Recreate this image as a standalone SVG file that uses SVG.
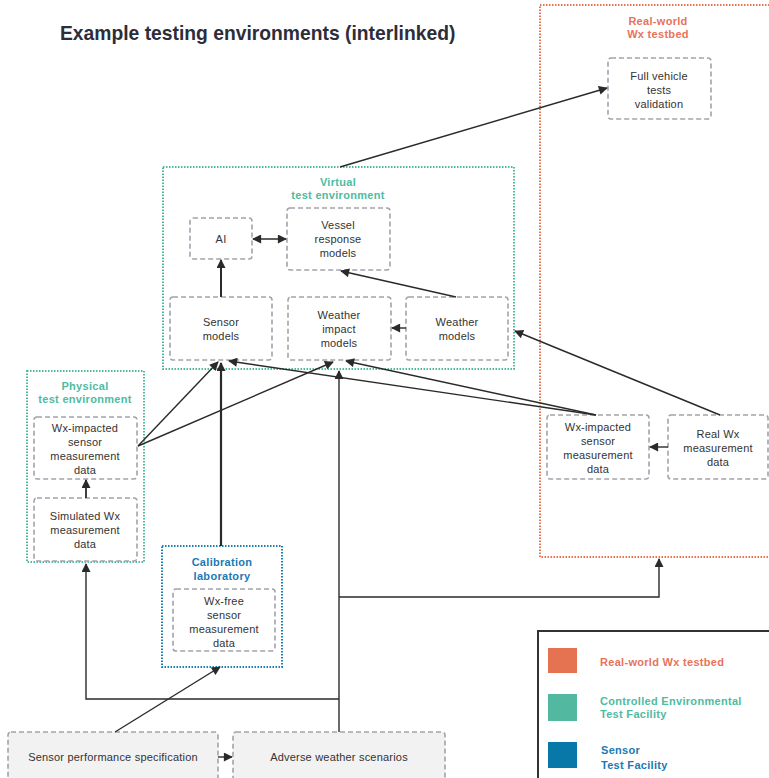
<svg xmlns="http://www.w3.org/2000/svg" width="769" height="778" viewBox="0 0 769 778">
  <defs>
    <marker id="arrow" viewBox="0 0 10 10" refX="9" refY="5" markerWidth="10" markerHeight="9" markerUnits="userSpaceOnUse" orient="auto-start-reverse">
      <path d="M0,0 L10,5 L0,10 Z" fill="#2a2a2a"/>
    </marker>
    <style>
      .node rect { fill: #ffffff; stroke: #a2a2ac; stroke-width: 1.6; stroke-dasharray: 5 3; }
      .node.base rect { fill: #f2f2f2; }
      .node text { font-family: "Liberation Sans", Arial, sans-serif; font-size: 11px; letter-spacing: 0.2px; fill: #333333; text-anchor: middle; }
      .env { fill: none; stroke-width: 2; stroke-dasharray: 1.5 1.5; }
      .env-label { font-family: "Liberation Sans", Arial, sans-serif; font-size: 11px; letter-spacing: 0.3px; font-weight: bold; text-anchor: middle; }
      .orange { stroke: #e8734f; }
      .teal { stroke: #52b9a0; }
      .blue { stroke: #1b7fb0; }
      .t-orange { fill: #e8735a; }
      .t-teal { fill: #4fbba2; }
      .t-blue { fill: #1a7ab5; }
      .conn path { fill: none; stroke: #2a2a2a; stroke-width: 1.4; }
      .legend text { font-family: "Liberation Sans", Arial, sans-serif; font-size: 11px; letter-spacing: 0.3px; font-weight: bold; }
    </style>
  </defs>

  <rect width="769" height="778" fill="#ffffff"/>

  <text x="60" y="40" font-family="Liberation Sans, Arial, sans-serif" font-size="19.3" font-weight="bold" fill="#2d2d3a">Example testing environments (interlinked)</text>

  <!-- Environment frames -->
  <g id="env-realworld">
    <rect class="env orange" x="540" y="5" width="240" height="552"/>
    <text class="env-label t-orange" x="658" y="25">Real-world</text>
    <text class="env-label t-orange" x="658" y="38">Wx testbed</text>
  </g>
  <g id="env-virtual">
    <rect class="env teal" x="163" y="167" width="351" height="202"/>
    <text class="env-label t-teal" x="338" y="186">Virtual</text>
    <text class="env-label t-teal" x="338" y="199">test environment</text>
  </g>
  <g id="env-physical">
    <rect class="env teal" x="27" y="371" width="117" height="191"/>
    <text class="env-label t-teal" x="85" y="390">Physical</text>
    <text class="env-label t-teal" x="85" y="403">test environment</text>
  </g>
  <g id="env-calibration">
    <rect class="env blue" x="162" y="546" width="120" height="121"/>
    <text class="env-label t-blue" x="222" y="566">Calibration</text>
    <text class="env-label t-blue" x="222" y="580">laboratory</text>
  </g>

  <!-- Nodes -->
  <g id="full-vehicle" class="node">
    <rect x="608" y="58" width="103" height="61" rx="3"/>
    <text x="659" y="80">Full vehicle</text>
    <text x="659" y="94">tests</text>
    <text x="659" y="108">validation</text>
  </g>
  <g id="ai" class="node">
    <rect x="190" y="218" width="62" height="41" rx="3"/>
    <text x="221" y="243">AI</text>
  </g>
  <g id="vessel-response" class="node">
    <rect x="287" y="208" width="103" height="62" rx="3"/>
    <text x="338" y="229">Vessel</text>
    <text x="338" y="243">response</text>
    <text x="338" y="257">models</text>
  </g>
  <g id="sensor-models" class="node">
    <rect x="170" y="297" width="102" height="63" rx="3"/>
    <text x="221" y="326">Sensor</text>
    <text x="221" y="340">models</text>
  </g>
  <g id="weather-impact" class="node">
    <rect x="288" y="297" width="103" height="63" rx="3"/>
    <text x="339" y="319">Weather</text>
    <text x="339" y="333">impact</text>
    <text x="339" y="347">models</text>
  </g>
  <g id="weather-models" class="node">
    <rect x="406" y="297" width="102" height="63" rx="3"/>
    <text x="457" y="326">Weather</text>
    <text x="457" y="340">models</text>
  </g>
  <g id="wx-impacted-physical" class="node">
    <rect x="34" y="417" width="103" height="62" rx="3"/>
    <text x="85" y="432">Wx-impacted</text>
    <text x="85" y="446">sensor</text>
    <text x="85" y="460">measurement</text>
    <text x="85" y="474">data</text>
  </g>
  <g id="simulated-wx" class="node">
    <rect x="34" y="498" width="103" height="63" rx="3"/>
    <text x="85" y="520">Simulated Wx</text>
    <text x="85" y="534">measurement</text>
    <text x="85" y="548">data</text>
  </g>
  <g id="wx-impacted-real" class="node">
    <rect x="547" y="415" width="102" height="64" rx="3"/>
    <text x="598" y="431">Wx-impacted</text>
    <text x="598" y="445">sensor</text>
    <text x="598" y="459">measurement</text>
    <text x="598" y="473">data</text>
  </g>
  <g id="real-wx" class="node">
    <rect x="668" y="415" width="100" height="64" rx="3"/>
    <text x="718" y="438">Real Wx</text>
    <text x="718" y="452">measurement</text>
    <text x="718" y="466">data</text>
  </g>
  <g id="wx-free" class="node">
    <rect x="173" y="589" width="102" height="62" rx="3"/>
    <text x="224" y="605">Wx-free</text>
    <text x="224" y="619">sensor</text>
    <text x="224" y="633">measurement</text>
    <text x="224" y="647">data</text>
  </g>
  <g id="sensor-spec" class="node base">
    <rect x="8" y="732" width="210" height="60" rx="3"/>
    <text x="113" y="761">Sensor performance specification</text>
  </g>
  <g id="adverse-weather" class="node base">
    <rect x="233" y="732" width="212" height="60" rx="3"/>
    <text x="339" y="761">Adverse weather scenarios</text>
  </g>

  <!-- Connectors -->
  <g id="connectors" class="conn">
    <path d="M340,167 L607,88" marker-end="url(#arrow)"/>
    <path d="M253,239 L286,239" marker-start="url(#arrow)" marker-end="url(#arrow)"/>
    <path d="M221,297 L221,260" marker-end="url(#arrow)" style="stroke-width:2"/>
    <path d="M456,297 L341,271" marker-end="url(#arrow)"/>
    <path d="M406,328 L392,328" marker-end="url(#arrow)"/>
    <path d="M720,415 L515,331" marker-end="url(#arrow)"/>
    <path d="M668,447 L650,447" marker-end="url(#arrow)"/>
    <path d="M596,415 L229,361" marker-end="url(#arrow)"/>
    <path d="M596,415 L346,361" marker-end="url(#arrow)"/>
    <path d="M138,446 L218,362" marker-end="url(#arrow)"/>
    <path d="M138,446 L333,362" marker-end="url(#arrow)"/>
    <path d="M86,498 L86,480" marker-end="url(#arrow)" style="stroke-width:1.8"/>
    <path d="M221,546 L221,363" marker-end="url(#arrow)" style="stroke-width:2.2"/>
    <path d="M339,732 L339,371" marker-end="url(#arrow)"/>
    <path d="M339,597 L659,597 L659,559" marker-end="url(#arrow)"/>
    <path d="M339,699 L86,699 L86,564" marker-end="url(#arrow)"/>
    <path d="M115,732 L220,667" marker-end="url(#arrow)"/>
    <path d="M218,757 L232,757" marker-end="url(#arrow)"/>
  </g>

  <!-- Legend -->
  <g id="legend" class="legend">
    <rect x="538" y="631" width="240" height="160" fill="#ffffff" stroke="#333333" stroke-width="2"/>
    <rect x="548" y="648" width="29" height="25" fill="#e57352"/>
    <rect x="548" y="694" width="29" height="27" fill="#52b9a0"/>
    <rect x="548" y="742" width="29" height="26" fill="#0878a8"/>
    <text class="t-orange" x="600" y="666">Real-world Wx testbed</text>
    <text class="t-teal" x="600" y="705">Controlled Environmental</text>
    <text class="t-teal" x="600" y="718">Test Facility</text>
    <text class="t-blue" x="601" y="754">Sensor</text>
    <text class="t-blue" x="601" y="769">Test Facility</text>
  </g>
</svg>
